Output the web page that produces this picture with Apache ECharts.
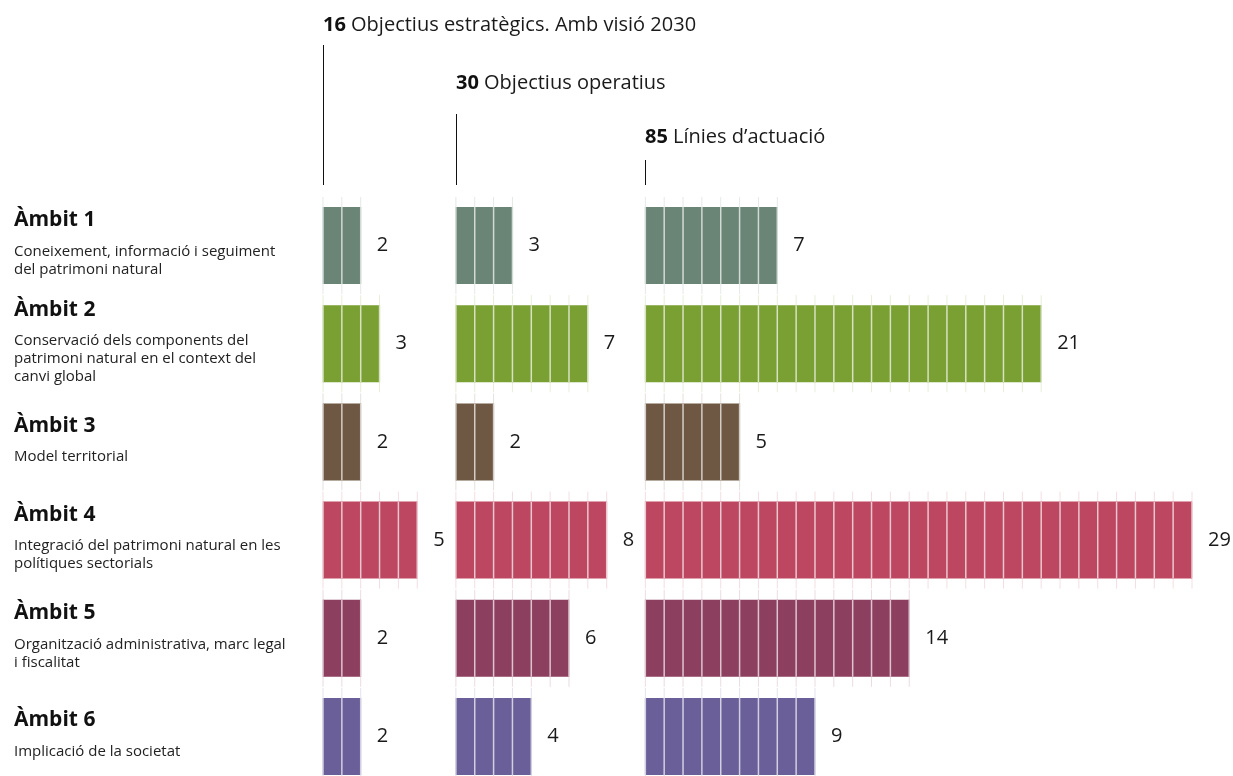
<!DOCTYPE html>
<html>
<head>
<meta charset="utf-8">
<script src="https://cdn.jsdelivr.net/npm/echarts@6/dist/echarts.min.js"></script>
<style>
html, body { margin: 0; padding: 0; background: #fff; }
#main { width: 1233px; height: 776px; }
</style>
</head>
<body>
<div id="main"></div>
<script>
// data
const ambits = ["Àmbit 1", "Àmbit 2", "Àmbit 3", "Àmbit 4", "Àmbit 5", "Àmbit 6"];
const descriptions = [
  "Coneixement, informació i seguiment\ndel patrimoni natural",
  "Conservació dels components del\npatrimoni natural en el context del\ncanvi global",
  "Model territorial",
  "Integració del patrimoni natural en les\npolítiques sectorials",
  "Organització administrativa, marc legal\ni fiscalitat",
  "Implicació de la societat"
];
const estrategics = [2, 3, 2, 5, 2, 2];
const operatius = [3, 7, 2, 8, 6, 4];
const linies = [7, 21, 5, 29, 14, 9];
const groupTotals = [16, 30, 85];
const groupNames = ["Objectius estratègics. Amb visió 2030", "Objectius operatius", "Línies d’actuació"];

// layout / style
const groupStart = [0, 7.05, 17.1];
const colors = ["#6a8475", "#7a9f32", "#6e5844", "#bd4660", "#8d3f5f", "#6a5f99"];
const FONT = "Open Sans";

function tint(hex, k) {
  const n = parseInt(hex.slice(1), 16);
  const r = (n >> 16) & 255, g = (n >> 8) & 255, b = n & 255;
  const m = (v) => Math.round(v + (255 - v) * k);
  return "rgb(" + m(r) + "," + m(g) + "," + m(b) + ")";
}

function buildData(values, g) {
  return values.map((v, i) => [groupStart[g], v, i]);
}

function renderUnits(params, api) {
  const start = api.value(0);
  const n = api.value(1);
  const row = api.value(2);
  const c0 = api.coord([start, row]);
  const c1 = api.coord([start + n, row]);
  const unit = api.size([1, 0])[0];
  const barH = 77;
  const children = [];
  for (let i = 0; i <= n; i++) {
    const x = c0[0] + i * unit;
    children.push({
      type: "line",
      shape: { x1: x, y1: c0[1] - 48.5, x2: x, y2: c0[1] + 48.5 },
      style: { stroke: tint(colors[row], 0.82), lineWidth: 1 }
    });
  }
  children.push({
    type: "rect",
    shape: { x: c0[0], y: c0[1] - barH / 2, width: c1[0] - c0[0], height: barH },
    style: { fill: colors[row] }
  });
  for (let i = 0; i <= n; i++) {
    const x = c0[0] + i * unit;
    children.push({
      type: "line",
      shape: { x1: x, y1: c0[1] - barH / 2, x2: x, y2: c0[1] + barH / 2 },
      style: { stroke: tint(colors[row], 0.7), lineWidth: 1.5 }
    });
  }
  children.push({
    type: "text",
    style: {
      text: String(n), x: c1[0] + 16, y: c0[1],
      verticalAlign: "middle", align: "left",
      fontSize: 20, fontFamily: FONT, fill: "#1a1a1a"
    }
  });
  return { type: "group", children: children };
}

function header(i, left, top) {
  return {
    type: "text", left: left, top: top,
    style: {
      text: "{b|" + groupTotals[i] + "} " + groupNames[i],
      fontSize: 20, fontFamily: FONT, fill: "#1a1a1a",
      rich: { b: { fontWeight: "bold", fontSize: 20, fontFamily: FONT, fill: "#111" } }
    }
  };
}

var chartDom = document.getElementById("main");
var myChart = echarts.init(chartDom);

var option = {
  animation: false,
  textStyle: { fontFamily: FONT },
  grid: { left: 323, top: 196.4, width: 904.8, height: 589.2, outerBoundsMode: "none", containLabel: false },
  xAxis: { type: "value", min: 0, max: 48, show: false },
  yAxis: {
    type: "category",
    inverse: true,
    data: ambits,
    axisLine: { show: false },
    axisTick: { show: false },
    splitLine: { show: false },
    axisLabel: {
      align: "left",
      margin: 309,
      padding: [0, 0, 14, 0],
      formatter: function (value, index) {
        const d = descriptions[index].split("\n").map((l) => "{d|" + l + "}").join("\n");
        return "{t|" + value + "}\n" + d;
      },
      rich: {
        t: { fontSize: 21, fontWeight: "bold", lineHeight: 44, color: "#111", fontFamily: FONT },
        d: { fontSize: 15, lineHeight: 18, color: "#222", fontFamily: FONT }
      }
    }
  },
  graphic: [
    { type: "line", shape: { x1: 323.5, y1: 45, x2: 323.5, y2: 185 }, style: { stroke: "#111", lineWidth: 1 } },
    { type: "line", shape: { x1: 456.5, y1: 114, x2: 456.5, y2: 185 }, style: { stroke: "#111", lineWidth: 1 } },
    { type: "line", shape: { x1: 645.5, y1: 160, x2: 645.5, y2: 185 }, style: { stroke: "#111", lineWidth: 1 } },
    header(0, 323, 15),
    header(1, 456, 73),
    header(2, 645, 127)
  ],
  series: [
    { name: "estrategics", type: "custom", renderItem: renderUnits, data: buildData(estrategics, 0) },
    { name: "operatius", type: "custom", renderItem: renderUnits, data: buildData(operatius, 1) },
    { name: "linies", type: "custom", renderItem: renderUnits, data: buildData(linies, 2) }
  ]
};

option && myChart.setOption(option);
</script>
</body>
</html>
